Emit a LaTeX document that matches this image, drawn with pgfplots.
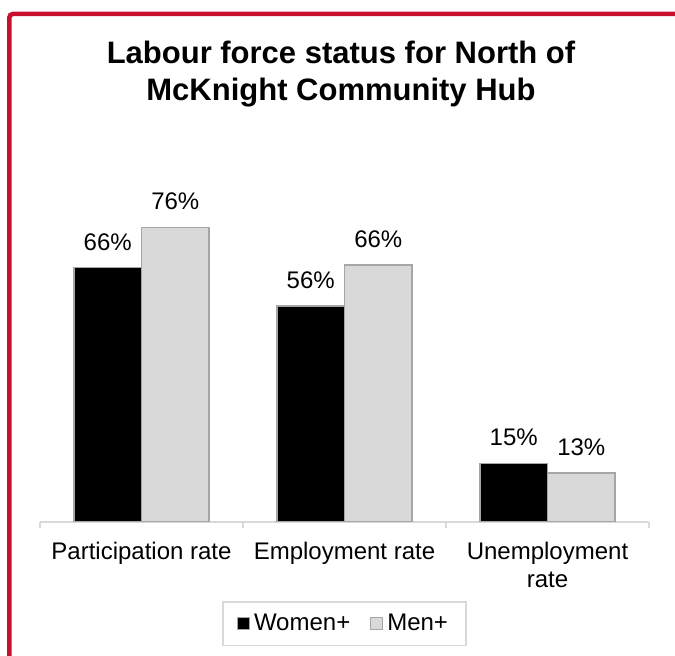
\documentclass[border=0pt]{standalone}
\usepackage{pgfplots}
\pgfplotsset{compat=1.18}
\usepackage{fontspec}
\setmainfont{Liberation Sans}
\definecolor{frame}{RGB}{200,16,46}
\definecolor{barline}{RGB}{166,166,166}
\definecolor{lightbar}{RGB}{217,217,217}
\definecolor{axisgray}{RGB}{217,217,217}
\begin{document}
\begin{tikzpicture}
\path[use as bounding box] (0,0) rectangle (337.5pt,328pt);
\draw[frame, line width=2.25pt, rounded corners=2pt] (4.625pt,-10pt) -- (4.625pt,321.1pt) -- (350pt,321.1pt);
\node[anchor=base, font=\fontsize{15.5}{18.5}\selectfont\bfseries] at (170.5pt,296pt) {Labour force status for North of};
\node[anchor=base, font=\fontsize{15.5}{18.5}\selectfont\bfseries] at (170.5pt,277.5pt) {McKnight Community Hub};
\begin{axis}[
  at={(20pt,67pt)}, anchor=south west,
  scale only axis, width=304.5pt, height=154.8pt,
  ymin=0, ymax=80, xmin=-0.5, xmax=2.5,
  axis x line*=bottom, axis y line=none,
  ybar=0pt, bar width=0.333,
  xtick={0,1,2},
  xticklabels={Participation rate, Employment rate, {Unemployment\\rate}},
  major tick length=0pt,
  minor xtick={-0.5,0.5,1.5,2.5},
  minor tick length=3pt,
  tick align=outside,
  x axis line style={draw=axisgray, line width=0.75pt},
  every tick/.style={draw=axisgray, line width=0.75pt},
  xticklabel style={font=\fontsize{12}{14}\selectfont, align=center, yshift=-6.5pt},
  /pgf/number format/assume math mode=true,
  nodes near coords={\pgfmathprintnumber[fixed,precision=0]{\pgfplotspointmeta}\%},
  every node near coord/.append style={font=\fontsize{12}{14}\selectfont, yshift=5pt, black},
  legend columns=2,
  legend style={at={(0.500,-0.329)}, anchor=center, draw=axisgray, line width=0.75pt,
    font=\fontsize{12}{14}\selectfont, inner xsep=7pt, inner ysep=4pt,
    /tikz/every even column/.append style={column sep=8pt}},
  legend image code/.code={\draw[#1, line width=0.5pt] (0pt,-3pt) rectangle (6pt,3pt);},
]
\addplot[fill=black, draw=barline, line width=0.75pt] coordinates {(0,65.7) (1,55.8) (2,15.1)};
\addplot[fill=lightbar, draw=barline, line width=0.75pt] coordinates {(0,76.1) (1,66.4) (2,12.6)};
\legend{Women+, Men+}
\end{axis}
\end{tikzpicture}
\end{document}
